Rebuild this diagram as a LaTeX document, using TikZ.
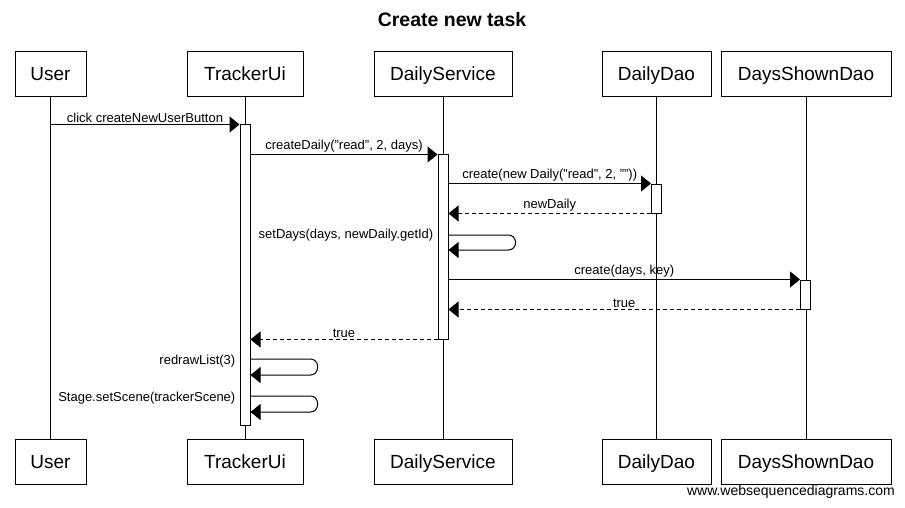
\documentclass[tikz,border=0pt]{standalone}
\usepackage{fontspec}
\setmainfont{Liberation Sans}
\usetikzlibrary{arrows.meta}
\tikzset{
  actor/.style={draw, line width=1pt, minimum height=45pt, inner sep=0pt, text height=13.6pt, text depth=0pt, font=\fontsize{19}{22}\selectfont},
  act/.style={draw, fill=white, line width=1pt, minimum width=10pt, inner sep=0pt},
  msg/.style={line width=1pt, -{Triangle[length=10pt,width=16pt]}},
  reply/.style={msg, dash pattern=on 4pt off 3pt},
  lbl/.style={font=\fontsize{13}{15}\selectfont, inner sep=1.5pt}
}
\begin{document}
\begin{tikzpicture}[x=1pt,y=-1pt]
\useasboundingbox (0,0) rectangle (905,508);

\node[font=\bfseries\fontsize{19.5}{22}\selectfont] (title) at (452,20) {Create new task};

% participants and lifelines
\foreach \n/\x/\w/\t in {user/50.5/71/User, ui/245/116/TrackerUi, ds/443/138/DailyService, dao/656.5/109/DailyDao, dsd/806/170/DaysShownDao} {
  \node[actor, minimum width=\w pt] (\n) at (\x,74) {\t};
  \node[actor, minimum width=\w pt] (\n-b) at (\x,461.5) {\t};
  \draw[line width=1pt] (\n) -- (\n-b);
}

% activations
\node[act, minimum height=300pt] (uiact) at (ui.south |- 0,275) {};
\node[act, minimum height=184pt] (dsact) at (ds.south |- 0,247) {};
\node[act, minimum height=29pt] (daoact) at (dao.south |- 0,198.5) {};
\node[act, minimum height=29pt] (dsdact) at (805.5,294.5) {};

% calls
\draw[msg] (user.south |- uiact.north) -- (uiact.north west) node[lbl, midway, above] (m1) {click createNewUserButton};
\draw[msg] (uiact.east |- dsact.north) -- (dsact.north west) node[lbl, midway, above] (m2) {createDaily("read", 2, days)};
\draw[msg] (dsact.east |- daoact.north) -- (daoact.north west) node[lbl, midway, above] (m3) {create(new Daily("read", 2, ""))};
\draw[reply] (daoact.south west) -- (dsact.east |- daoact.south) node[lbl, midway, above] (m4) {newDaily};

\coordinate (setdays) at (dsact.east |- 0,235);
\draw[msg, rounded corners=7pt] (setdays) -- ++(67,0) -- ++(0,15) -- ++(-67,0);
\node[lbl, anchor=east] (m5) at (435,235) {setDays(days, newDaily.getId)};

\draw[msg] (dsact.east |- dsdact.north) -- (dsdact.north west) node[lbl, midway, above] (m6) {create(days, key)};
\draw[reply] (dsdact.south west) -- (dsact.east |- dsdact.south) node[lbl, midway, above] (m7) {true};
\draw[reply] (dsact.south west) -- (uiact.east |- dsact.south) node[lbl, midway, above] (m8) {true};

\coordinate (redraw) at (uiact.east |- 0,359);
\draw[msg, rounded corners=7pt] (redraw) -- ++(67,0) -- ++(0,16) -- ++(-67,0);
\node[lbl, anchor=east] (m9) at (237,361) {redrawList(3)};

\coordinate (setscene) at (uiact.east |- 0,396);
\draw[msg, rounded corners=7pt] (setscene) -- ++(67,0) -- ++(0,16) -- ++(-67,0);
\node[lbl, anchor=east] (m10) at (237,398) {Stage.setScene(trackerScene)};

\node[font=\fontsize{14}{16}\selectfont, anchor=east, inner sep=0pt] (site) at (895,492) {www.websequencediagrams.com};
\end{tikzpicture}
\end{document}
